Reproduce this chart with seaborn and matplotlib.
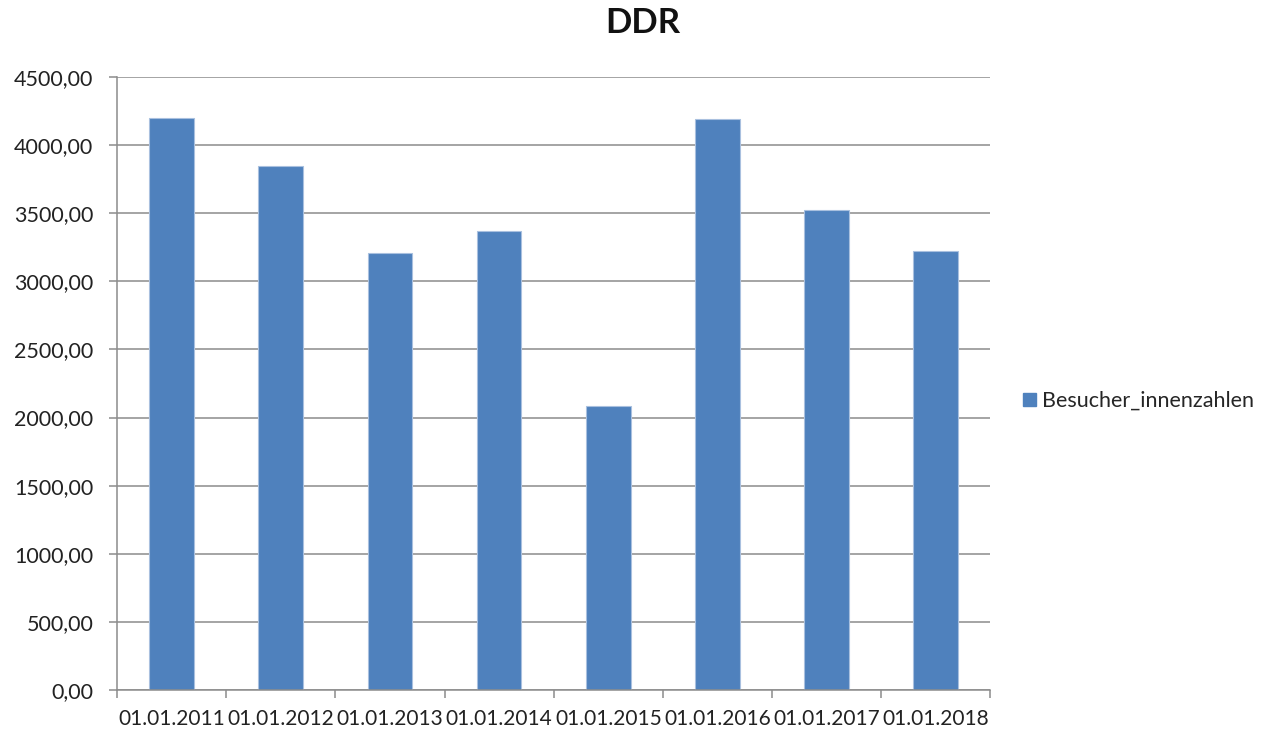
import matplotlib
matplotlib.use("Agg")
import matplotlib.pyplot as plt
import seaborn as sns
import pandas as pd
from matplotlib.patches import Patch
from matplotlib.ticker import FuncFormatter, MultipleLocator, FixedLocator

categories = ["01.01.2011", "01.01.2012", "01.01.2013", "01.01.2014",
              "01.01.2015", "01.01.2016", "01.01.2017", "01.01.2018"]
values = [4200, 3850, 3210, 3370, 2085, 4190, 3520, 3220]
series_name = "Besucher_innenzahlen"
title = "DDR"

df = pd.DataFrame({"Datum": categories, series_name: values})

sns.set_theme(style="white")
plt.rcParams["font.family"] = ["Lato", "DejaVu Sans"]

fig = plt.figure(figsize=(12.68, 7.32), dpi=100)
ax = fig.add_axes([0.0923, 0.0574, 0.6887, 0.8374])

bar_color = "#4F81BD"
sns.barplot(data=df, x="Datum", y=series_name, color=bar_color, width=0.41,
            ax=ax, edgecolor="#A9C0DF", linewidth=0.8, saturation=1)

ax.set_xlim(-0.5, len(categories) - 0.5)
ax.set_ylim(0, 4500)
ax.yaxis.set_major_locator(MultipleLocator(500))
ax.yaxis.set_major_formatter(FuncFormatter(lambda v, p: f"{v:.2f}".replace(".", ",")))
ax.grid(axis="y", color="#8C8C8C", linewidth=1.1)
ax.set_axisbelow(True)

for s in ["top", "right"]:
    ax.spines[s].set_visible(False)
for s in ["left", "bottom"]:
    ax.spines[s].set_color("#8C8C8C")
    ax.spines[s].set_linewidth(1.1)

ax.set_xlabel("")
ax.set_ylabel("")
ax.tick_params(axis="x", which="major", length=0, pad=14, labelsize=15, labelcolor="#222222")
ax.xaxis.set_minor_locator(FixedLocator([i - 0.5 for i in range(len(categories) + 1)]))
ax.tick_params(axis="x", which="minor", bottom=True, length=6, width=1.1, color="#8C8C8C", direction="out")
ax.tick_params(axis="y", which="major", left=True, length=6, width=1.1, color="#8C8C8C",
               pad=11, labelsize=15.5, labelcolor="#222222")

fig.suptitle(title, x=0.507, y=0.99, fontsize=25, fontweight="bold", color="#111111")

handle = Patch(facecolor=bar_color, edgecolor=bar_color)
fig.legend([handle], [series_name], loc="center left", bbox_to_anchor=(0.8, 0.452),
           frameon=False, fontsize=15.5, handlelength=0.6, handleheight=0.6,
           handletextpad=0.3, borderpad=0.2, borderaxespad=0.2)

fig.savefig("out.png", dpi=100)
